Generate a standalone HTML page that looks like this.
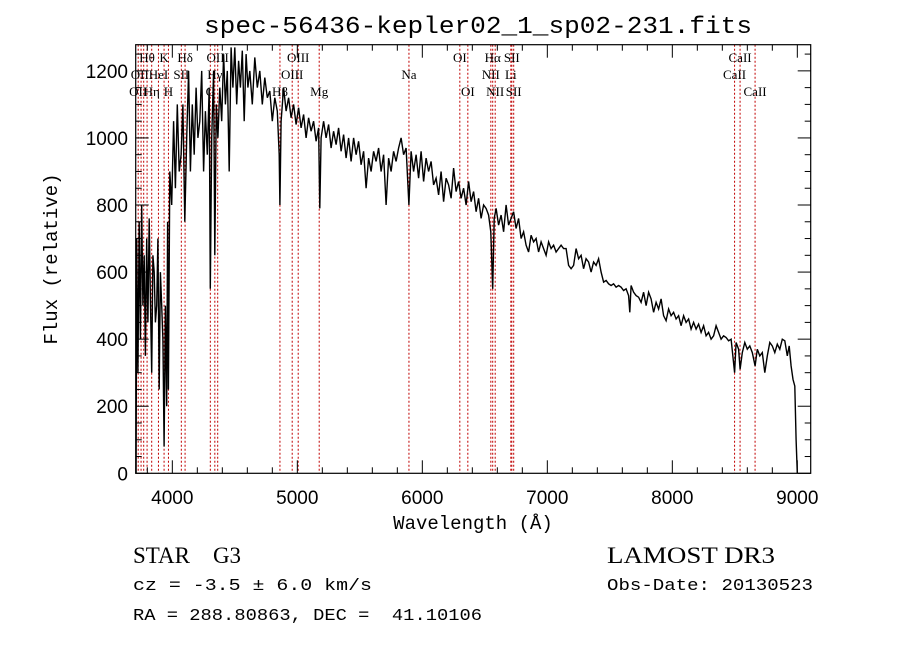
<!DOCTYPE html>
<html><head><meta charset="utf-8"><style>
html,body{margin:0;padding:0;background:#fff;}
svg{display:block;font-family:"Liberation Serif",serif;}
svg text{white-space:pre;}
.t{font-family:"Liberation Sans",sans-serif;}
</style></head><body>
<svg id="chart" width="900" height="649" viewBox="0 0 900 649">
<rect width="900" height="649" fill="#fff"/>
<text x="478" y="33" text-anchor="middle" font-family="Liberation Mono,monospace" font-size="24" textLength="548" lengthAdjust="spacingAndGlyphs">spec-56436-kepler02_1_sp02-231.fits</text>
<g id="lines"></g>
<g id="marks"></g>
<g id="axes"></g>
<text x="473" y="529" text-anchor="middle" font-family="Liberation Mono,monospace" font-size="19">Wavelength (Å)</text>
<text transform="translate(57,259) rotate(-90)" text-anchor="middle" font-family="Liberation Mono,monospace" font-size="19">Flux (relative)</text>
<text x="133" y="563" font-size="23">STAR&#160;&#160;&#160;&#160;G3</text>
<text x="607" y="563" font-size="23" textLength="168" lengthAdjust="spacingAndGlyphs">LAMOST DR3</text>
<text x="133" y="590" font-family="Liberation Mono,monospace" font-size="17" textLength="239" lengthAdjust="spacingAndGlyphs">cz = -3.5 ± 6.0 km/s</text>
<text x="607" y="590" font-family="Liberation Mono,monospace" font-size="17" textLength="206" lengthAdjust="spacingAndGlyphs">Obs-Date: 20130523</text>
<text x="133" y="620" font-family="Liberation Mono,monospace" font-size="17" textLength="349" lengthAdjust="spacingAndGlyphs">RA = 288.80863, DEC =&#160;&#160;41.10106</text>
</svg>
<script>
const waves=[3710,3715,3725,3735,3745,3755,3765,3775,3785,3795,3805,3815,3825,3835,3845,3855,3865,3875,3885,3895,3905,3915,3925,3934,3945,3955,3962,3969,3980,3995,4010,4025,4040,4055,4070,4085,4100,4115,4130,4145,4160,4175,4190,4205,4220,4235,4250,4265,4280,4295,4304,4315,4330,4340,4352,4365,4380,4395,4410,4425,4440,4455,4470,4485,4500,4515,4530,4545,4560,4575,4590,4605,4620,4640,4660,4680,4700,4720,4740,4760,4780,4800,4820,4840,4855,4861,4870,4890,4910,4930,4950,4970,4990,5010,5030,5050,5070,5090,5110,5130,5150,5170,5180,5190,5210,5230,5250,5270,5290,5310,5330,5350,5370,5390,5410,5430,5450,5470,5490,5510,5530,5550,5570,5590,5610,5630,5650,5670,5690,5710,5730,5750,5770,5790,5810,5830,5850,5870,5893,5910,5930,5950,5970,5990,6010,6030,6050,6070,6090,6110,6130,6150,6170,6190,6210,6230,6250,6270,6290,6310,6330,6350,6370,6390,6410,6430,6450,6470,6490,6510,6530,6548,6563,6575,6590,6610,6630,6650,6670,6690,6710,6730,6750,6770,6790,6810,6830,6850,6870,6890,6910,6930,6950,6970,6990,7010,7030,7050,7070,7090,7110,7130,7150,7170,7190,7210,7230,7250,7270,7290,7310,7330,7350,7370,7390,7410,7430,7450,7470,7490,7510,7530,7550,7570,7590,7610,7630,7650,7660,7670,7690,7710,7730,7750,7770,7790,7810,7830,7850,7870,7890,7910,7930,7950,7970,7990,8010,8030,8050,8070,8090,8110,8130,8150,8170,8190,8210,8230,8250,8270,8290,8310,8330,8350,8370,8390,8410,8430,8450,8470,8498,8510,8530,8542,8560,8580,8600,8620,8640,8662,8680,8700,8720,8740,8760,8780,8800,8820,8840,8860,8880,8900,8920,8935,8950,8965,8980,8990,9000];
const flux=[0,700,300,750,400,800,500,650,350,700,450,760,520,300,650,600,450,500,700,250,600,500,400,80,500,200,750,250,900,800,1050,850,1100,900,950,1100,750,1000,1200,900,1100,950,1150,1000,1050,1200,900,1080,950,1150,550,1000,1200,650,1100,1000,1150,1050,1250,1100,1200,900,1270,1150,1270,1100,1230,1150,1260,1050,1250,1150,1200,1100,1240,1150,1200,1100,1180,1120,1140,1050,1120,1080,950,800,1050,1150,1080,1120,1060,1100,1040,1090,1030,1070,1000,1060,1020,1050,990,1030,790,1000,1050,1000,1040,970,1020,980,1030,960,1010,940,1000,930,1000,950,990,920,960,850,940,900,960,930,970,900,950,800,940,900,960,930,970,1000,950,970,800,960,900,950,880,960,870,940,900,930,860,880,830,900,810,880,860,820,910,840,870,820,850,800,870,810,840,780,820,760,800,790,770,720,550,760,790,740,770,720,800,740,760,780,730,760,700,720,680,660,710,690,700,660,690,670,650,690,670,680,660,670,680,670,670,620,610,620,670,640,650,610,640,630,600,630,620,640,600,570,575,565,560,565,555,560,555,545,550,530,480,560,540,530,525,510,540,500,540,520,480,510,490,520,470,455,490,470,480,460,470,440,470,450,460,430,450,430,445,420,440,410,420,400,410,440,420,400,410,405,395,400,300,390,370,310,360,390,370,380,360,320,370,350,360,300,350,390,380,360,385,370,400,395,350,380,320,280,260,100,0];
const lineWaves=[3727,3750,3771,3798,3835,3889,3934,3969,4072,4102,4304,4340,4363,4861,4959,5007,5175,5893,6300,6364,6548,6563,6583,6708,6716,6731,8498,8542,8662];
const lineLabels=[["OII",3727,2],["Hθ",3798,0],["OII",3740,1],["Hη",3835,2],["HeI",3889,1],["K",3934,0],["H",3969,2],["SII",4072,1],["Hδ",4102,0],["OIII",4363,0],["Hγ",4340,1],["G",4304,2],["OIII",5007,0],["OIII",4959,1],["Hβ",4861,2],["Mg",5175,2],["Na",5893,1],["OI",6300,0],["OI",6364,2],["Hα",6563,0],["NII",6548,1],["NII",6583,2],["SII",6716,0],["Li",6708,1],["SII",6731,2],["CaII",8498,1],["CaII",8542,0],["CaII",8662,2]];
const xTicks=[4000,5000,6000,7000,8000,9000];
const yTicks=[0,200,400,600,800,1000,1200];
const X0=135.7,X1=810.7,Y0=44.7,Y1=473.3,W0=3707,W1=9107,F0=0,F1=1278;
const sx=w=>X0+(w-W0)/(W1-W0)*(X1-X0);
const sy=f=>Y1-(f-F0)/(F1-F0)*(Y1-Y0);
const NS="http://www.w3.org/2000/svg";
function mk(tag,attrs,parent){const e=document.createElementNS(NS,tag);for(const k in attrs)e.setAttribute(k,attrs[k]);parent.appendChild(e);return e;}
const gl=document.getElementById('lines');
lineWaves.forEach(w=>{
 const l=mk('line',{x1:sx(w),x2:sx(w),y1:Y0,y2:Y1,stroke:'#c00000','stroke-width':1,'stroke-dasharray':'2,2'},gl);
 
 
});
lineLabels.forEach(([t,w,r])=>{
 const e=mk('text',{x:sx(w),y:62+r*17,'text-anchor':'middle','font-size':13},gl);
 e.textContent=t;
 
 
});
const gm=document.getElementById('marks');
const pts=waves.map((w,i)=>sx(w).toFixed(1)+','+sy(flux[i]).toFixed(1)).join(' ');
const pl=mk('polyline',{points:pts,fill:'none',stroke:'#000','stroke-width':1.4,'stroke-linejoin':'miter'},gm);


const ga=document.getElementById('axes');
const fr=mk('rect',{x:X0,y:Y0,width:X1-X0,height:Y1-Y0,fill:'none',stroke:'#000','stroke-width':1.2},ga);


for(let w=3800;w<=9100;w+=200){const maj=w%1000===0,L=maj?13:6;
 mk('line',{x1:sx(w),x2:sx(w),y1:Y1,y2:Y1-L,stroke:'#000'},ga);
 mk('line',{x1:sx(w),x2:sx(w),y1:Y0,y2:Y0+L,stroke:'#000'},ga);}
for(let f=0;f<=1250;f+=50){const maj=f%200===0,L=maj?13:6;
 mk('line',{x1:X0,x2:X0+L,y1:sy(f),y2:sy(f),stroke:'#000'},ga);
 mk('line',{x1:X1,x2:X1-L,y1:sy(f),y2:sy(f),stroke:'#000'},ga);}
xTicks.forEach(v=>{const e=mk('text',{x:sx(v),y:504,'text-anchor':'middle','font-size':19,class:'t'},ga);e.textContent=v;
 
 });
yTicks.forEach(v=>{const e=mk('text',{x:128,y:sy(v)+7,'text-anchor':'end','font-size':19,class:'t'},ga);e.textContent=v;
 
 });
</script>
</body></html>
